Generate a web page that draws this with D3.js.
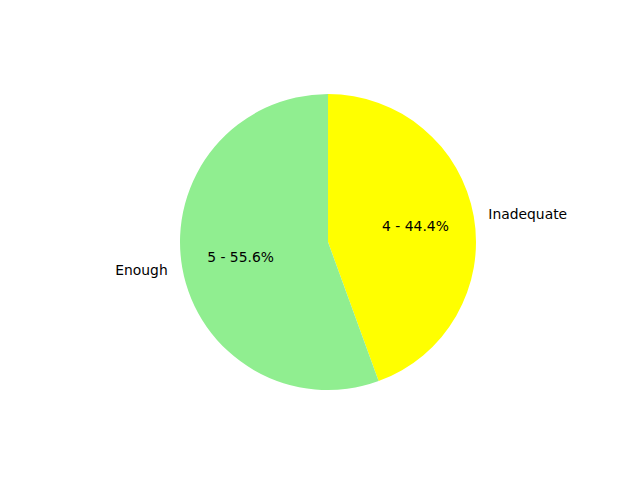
<!DOCTYPE html>
<html>
<head>
<meta charset="utf-8">
<script src="https://cdn.jsdelivr.net/npm/d3@7"></script>
<style>
  body { margin: 0; background: #fff; }
  text { font-family: "DejaVu Sans", sans-serif; font-size: 13.89px; fill: #000; }
</style>
</head>
<body>
<div id="chart"></div>
<script>
// slice data, drawn clockwise from the top
const labels = ['Inadequate', 'Enough'];
const counts = [4, 5];
const colors = ['#ffff00', '#90ee90'];

const width = 640, height = 480;
const cx = 328, cy = 242, radius = 148;

const svg = d3.select('#chart').append('svg')
  .attr('width', width)
  .attr('height', height);

const g = svg.append('g')
  .attr('transform', `translate(${cx},${cy})`);

const data = labels.map((l, i) => ({ label: l, value: counts[i], color: colors[i] }));
const total = d3.sum(counts);

const pie = d3.pie().sort(null).value(d => d.value);
const arc = d3.arc().innerRadius(0).outerRadius(radius);
const arcs = pie(data);

g.selectAll('path.slice')
  .data(arcs)
  .enter().append('path')
  .attr('class', 'slice')
  .attr('d', arc)
  .style('fill', d => d.data.color);

// point at r along the middle of a slice (d3 angle 0 = top, clockwise)
function at(d, r) {
  const a = (d.startAngle + d.endAngle) / 2;
  return [r * Math.sin(a), -r * Math.cos(a)];
}

// outer labels
g.selectAll('text.lbl')
  .data(arcs)
  .enter().append('text')
  .attr('class', 'lbl')
  .attr('x', d => at(d, radius * 1.1)[0])
  .attr('y', d => at(d, radius * 1.1)[1])
  .attr('dy', '0.35em')
  .style('text-anchor', d => at(d, 1)[0] >= 0 ? 'start' : 'end')
  .text(d => d.data.label);

// value - percent labels
g.selectAll('text.pct')
  .data(arcs)
  .enter().append('text')
  .attr('class', 'pct')
  .attr('x', d => at(d, radius * 0.6)[0])
  .attr('y', d => at(d, radius * 0.6)[1])
  .attr('dy', '0.35em')
  .style('text-anchor', 'middle')
  .text(d => `${d.data.value} - ${(d.data.value / total * 100).toFixed(1)}%`);
</script>
</body>
</html>
